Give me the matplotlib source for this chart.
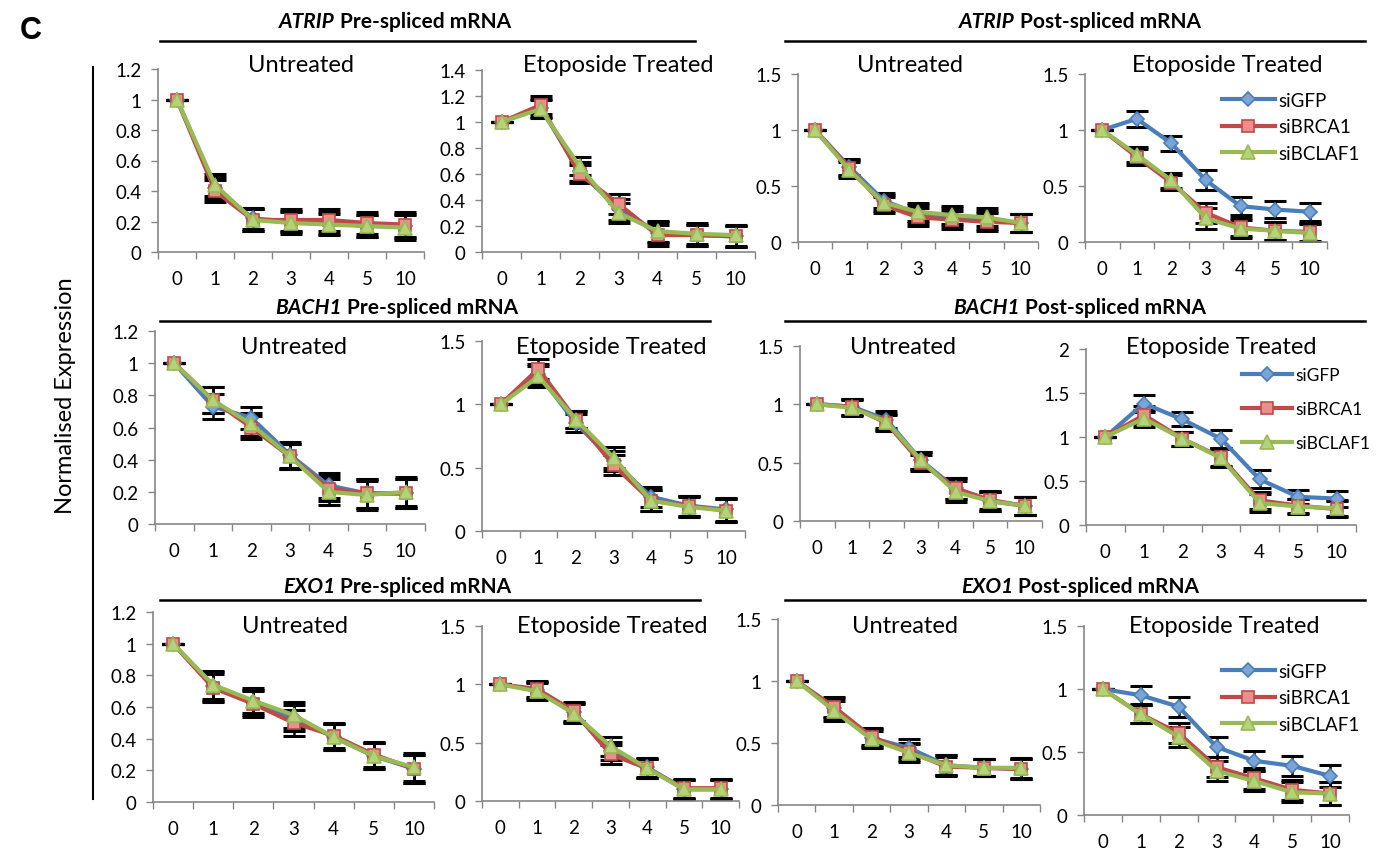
import matplotlib
matplotlib.use("Agg")
import matplotlib.pyplot as plt

# categories (hours)
hours = ["0", "1", "2", "3", "4", "5", "10"]
series_names = ["siGFP", "siBRCA1", "siBCLAF1"]

# ATRIP pre-spliced
atrip_pre_unt_gfp = [1, 0.42, 0.22, 0.20, 0.19, 0.17, 0.17]
atrip_pre_unt_brca1 = [1, 0.40, 0.21, 0.21, 0.21, 0.19, 0.18]
atrip_pre_unt_bclaf1 = [1, 0.44, 0.21, 0.19, 0.18, 0.17, 0.16]
atrip_pre_unt_err = [0, 0.07, 0.07, 0.07, 0.07, 0.07, 0.08]

atrip_pre_eto_gfp = [1, 1.11, 0.62, 0.33, 0.15, 0.13, 0.12]
atrip_pre_eto_brca1 = [1, 1.13, 0.60, 0.37, 0.13, 0.13, 0.12]
atrip_pre_eto_bclaf1 = [1, 1.10, 0.66, 0.30, 0.16, 0.14, 0.13]
atrip_pre_eto_err = [0, 0.07, 0.07, 0.08, 0.08, 0.08, 0.08]

# ATRIP post-spliced
atrip_post_unt_gfp = [1, 0.67, 0.37, 0.25, 0.22, 0.20, 0.17]
atrip_post_unt_brca1 = [1, 0.66, 0.33, 0.22, 0.20, 0.18, 0.17]
atrip_post_unt_bclaf1 = [1, 0.64, 0.35, 0.27, 0.24, 0.22, 0.17]
atrip_post_unt_err = [0, 0.07, 0.07, 0.08, 0.08, 0.08, 0.08]

atrip_post_eto_gfp = [1, 1.10, 0.88, 0.55, 0.32, 0.29, 0.27]
atrip_post_eto_brca1 = [1, 0.76, 0.53, 0.26, 0.13, 0.10, 0.09]
atrip_post_eto_bclaf1 = [1, 0.78, 0.55, 0.21, 0.12, 0.10, 0.08]
atrip_post_eto_err = [0, 0.07, 0.07, 0.09, 0.08, 0.08, 0.08]

# BACH1 pre-spliced
bach1_pre_unt_gfp = [1, 0.73, 0.66, 0.43, 0.24, 0.19, 0.19]
bach1_pre_unt_brca1 = [1, 0.77, 0.60, 0.42, 0.22, 0.19, 0.19]
bach1_pre_unt_bclaf1 = [1, 0.77, 0.62, 0.42, 0.20, 0.18, 0.20]
bach1_pre_unt_err = [0, 0.08, 0.07, 0.08, 0.08, 0.09, 0.09]

bach1_pre_eto_gfp = [1, 1.24, 0.85, 0.55, 0.27, 0.20, 0.17]
bach1_pre_eto_brca1 = [1, 1.28, 0.88, 0.52, 0.24, 0.20, 0.16]
bach1_pre_eto_bclaf1 = [1, 1.22, 0.88, 0.58, 0.24, 0.19, 0.16]
bach1_pre_eto_err = [0, 0.08, 0.07, 0.08, 0.08, 0.08, 0.09]

# BACH1 post-spliced
bach1_post_unt_gfp = [1, 0.98, 0.87, 0.52, 0.28, 0.17, 0.13]
bach1_post_unt_brca1 = [1, 0.98, 0.84, 0.50, 0.28, 0.18, 0.13]
bach1_post_unt_bclaf1 = [1, 0.97, 0.85, 0.52, 0.25, 0.17, 0.13]
bach1_post_unt_err = [0, 0.07, 0.07, 0.07, 0.09, 0.08, 0.08]

bach1_post_eto_gfp = [1, 1.38, 1.20, 0.98, 0.52, 0.32, 0.30]
bach1_post_eto_brca1 = [1, 1.25, 0.98, 0.77, 0.28, 0.22, 0.18]
bach1_post_eto_bclaf1 = [1, 1.21, 0.98, 0.76, 0.25, 0.21, 0.19]
bach1_post_eto_err = [0, 0.10, 0.08, 0.10, 0.10, 0.08, 0.09]

# EXO1 pre-spliced
exo1_pre_unt_gfp = [1, 0.73, 0.63, 0.53, 0.41, 0.29, 0.21]
exo1_pre_unt_brca1 = [1, 0.72, 0.62, 0.50, 0.42, 0.30, 0.21]
exo1_pre_unt_bclaf1 = [1, 0.74, 0.64, 0.55, 0.41, 0.29, 0.22]
exo1_pre_unt_err = [0, 0.09, 0.08, 0.08, 0.08, 0.08, 0.09]

exo1_pre_eto_gfp = [1, 0.95, 0.76, 0.43, 0.29, 0.10, 0.10]
exo1_pre_eto_brca1 = [1, 0.96, 0.77, 0.40, 0.28, 0.11, 0.11]
exo1_pre_eto_bclaf1 = [1, 0.94, 0.75, 0.47, 0.28, 0.10, 0.10]
exo1_pre_eto_err = [0, 0.07, 0.08, 0.08, 0.08, 0.08, 0.08]

# EXO1 post-spliced
exo1_post_unt_gfp = [1, 0.78, 0.54, 0.46, 0.32, 0.30, 0.29]
exo1_post_unt_brca1 = [1, 0.79, 0.55, 0.43, 0.31, 0.30, 0.29]
exo1_post_unt_bclaf1 = [1, 0.76, 0.53, 0.42, 0.32, 0.30, 0.30]
exo1_post_unt_err = [0, 0.08, 0.07, 0.07, 0.08, 0.07, 0.08]

exo1_post_eto_gfp = [1, 0.95, 0.86, 0.54, 0.43, 0.39, 0.31]
exo1_post_eto_brca1 = [1, 0.80, 0.65, 0.38, 0.29, 0.20, 0.17]
exo1_post_eto_bclaf1 = [1, 0.80, 0.62, 0.35, 0.27, 0.18, 0.17]
exo1_post_eto_err = [0, 0.07, 0.08, 0.08, 0.08, 0.08, 0.09]

line_colors = ["#4A7EBB", "#BE4B48", "#98B954"]
face_colors = ["#7BA4D6", "#E9908E", "#B5D27A"]
markers = ["D", "s", "^"]
marker_sizes = [7.5, 8.5, 10]

plt.rcParams['font.family'] = ['Lato', 'DejaVu Sans']

W, H = 1380, 853
fig = plt.figure(figsize=(W / 100, H / 100), dpi=100)


def fx(px):
    return px / W


def fy(py):
    return 1 - py / H


def panel(box, title, title_xy, ymax, ystep, gfp, brca1, bclaf1, err,
          legend=None):
    x0, x1, ytop, ybot = box
    ax = fig.add_axes([fx(x0), fy(ybot), (x1 - x0) / W, (ybot - ytop) / H])
    xs = list(range(len(hours)))
    for vals in [gfp, brca1, bclaf1]:
        ax.errorbar(xs, vals, yerr=err, fmt='none', ecolor='black',
                    elinewidth=1.8, capsize=8, capthick=2.2, zorder=2)
    for i, vals in enumerate([gfp, brca1, bclaf1]):
        ax.plot(xs, vals, color=line_colors[i], lw=3, marker=markers[i],
                ms=marker_sizes[i], mfc=face_colors[i], mec=line_colors[i],
                mew=1.2, label=series_names[i], zorder=3 + i)
    ax.set_xlim(-0.5, len(hours) - 0.5)
    ax.set_ylim(0, ymax)
    n = int(round(ymax / ystep))
    yt = [round(k * ystep, 2) for k in range(n + 1)]
    ax.set_yticks(yt)
    ax.set_yticklabels(["%g" % v for v in yt])
    ax.set_xticks(xs)
    ax.set_xticklabels(hours)
    ax.set_xticks([x - 0.5 for x in range(len(hours) + 1)], minor=True)
    ax.tick_params(axis='x', which='major', length=0, pad=13, labelsize=13.5)
    ax.tick_params(axis='x', which='minor', length=5, color='#868686', width=1)
    ax.tick_params(axis='y', length=5, color='#868686', width=1, labelsize=13.5,
                   pad=7)
    for s in ['top', 'right']:
        ax.spines[s].set_visible(False)
    for s in ['left', 'bottom']:
        ax.spines[s].set_color('#868686')
        ax.spines[s].set_linewidth(1.2)
    ax.patch.set_alpha(0)
    fig.text(fx(title_xy[0]), fy(title_xy[1]), title, ha='center', va='center',
             fontsize=17)
    if legend is not None:
        lx, ly, hl, ls, fs = legend
        ax.legend(loc='upper left', bbox_to_anchor=(fx(lx), fy(ly)),
                  bbox_transform=fig.transFigure, frameon=False, fontsize=fs,
                  handlelength=hl, labelspacing=ls, handletextpad=0.2,
                  borderaxespad=0, borderpad=0)
    return ax


panel((158, 424, 70, 253), "Untreated", (301, 65), 1.2, 0.2,
      atrip_pre_unt_gfp, atrip_pre_unt_brca1, atrip_pre_unt_bclaf1, atrip_pre_unt_err)
panel((482, 755, 71, 253), "Etoposide Treated", (618, 65), 1.4, 0.2,
      atrip_pre_eto_gfp, atrip_pre_eto_brca1, atrip_pre_eto_bclaf1, atrip_pre_eto_err)
panel((798, 1038, 75, 243), "Untreated", (910, 65), 1.5, 0.5,
      atrip_post_unt_gfp, atrip_post_unt_brca1, atrip_post_unt_bclaf1, atrip_post_unt_err)
panel((1085, 1327, 75, 243), "Etoposide Treated", (1227, 65), 1.5, 0.5,
      atrip_post_eto_gfp, atrip_post_eto_brca1, atrip_post_eto_bclaf1, atrip_post_eto_err,
      legend=(1222, 93, 2.8, 0.5, 13.5))

panel((155, 425, 332, 525), "Untreated", (294, 348), 1.2, 0.2,
      bach1_pre_unt_gfp, bach1_pre_unt_brca1, bach1_pre_unt_bclaf1, bach1_pre_unt_err)
panel((482, 745, 342, 532), "Etoposide Treated", (611, 348), 1.5, 0.5,
      bach1_pre_eto_gfp, bach1_pre_eto_brca1, bach1_pre_eto_bclaf1, bach1_pre_eto_err)
panel((800, 1042, 347, 522), "Untreated", (903, 348), 1.5, 0.5,
      bach1_post_unt_gfp, bach1_post_unt_brca1, bach1_post_unt_bclaf1, bach1_post_unt_err)
panel((1086, 1356, 350, 526), "Etoposide Treated", (1221, 348), 2, 0.5,
      bach1_post_eto_gfp, bach1_post_eto_brca1, bach1_post_eto_bclaf1, bach1_post_eto_err,
      legend=(1242, 368, 2.9, 1.05, 12.5))

panel((153, 434, 613, 803), "Untreated", (295, 627), 1.2, 0.2,
      exo1_pre_unt_gfp, exo1_pre_unt_brca1, exo1_pre_unt_bclaf1, exo1_pre_unt_err)
panel((482, 739, 627, 802), "Etoposide Treated", (612, 627), 1.5, 0.5,
      exo1_pre_eto_gfp, exo1_pre_eto_brca1, exo1_pre_eto_bclaf1, exo1_pre_eto_err)
panel((778, 1040, 620, 806), "Untreated", (905, 627), 1.5, 0.5,
      exo1_post_unt_gfp, exo1_post_unt_brca1, exo1_post_unt_bclaf1, exo1_post_unt_err)
panel((1084, 1349, 627, 816), "Etoposide Treated", (1224, 627), 1.5, 0.5,
      exo1_post_eto_gfp, exo1_post_eto_brca1, exo1_post_eto_bclaf1, exo1_post_eto_err,
      legend=(1222, 664, 2.8, 0.5, 13.5))

# group headers: italic gene name + bold rest, centred together, with a rule below
headers = [
    ("ATRIP", "Pre-spliced mRNA", 395, 22, 160, 695, 42),
    ("ATRIP", "Post-spliced mRNA", 1080, 22, 785, 1365, 42),
    ("BACH1", "Pre-spliced mRNA", 397, 308, 160, 710, 322),
    ("BACH1", "Post-spliced mRNA", 1080, 308, 785, 1365, 322),
    ("EXO1", "Pre-spliced mRNA", 397, 587, 160, 700, 601),
    ("EXO1", "Post-spliced mRNA", 1080, 587, 785, 1365, 601),
]
renderer = fig.canvas.get_renderer()
for gene, rest, cx, cy, lx0, lx1, ly in headers:
    t1 = fig.text(0, fy(cy), gene, ha='left', va='center', fontsize=15,
                  fontweight='bold', fontstyle='italic')
    t2 = fig.text(0, fy(cy), rest, ha='left', va='center', fontsize=15,
                  fontweight='bold')
    w1 = t1.get_window_extent(renderer).width
    w2 = t2.get_window_extent(renderer).width
    gap = 5
    start = cx - (w1 + gap + w2) / 2
    t1.set_x(fx(start))
    t2.set_x(fx(start + w1 + gap))
    fig.add_artist(plt.Line2D([fx(lx0), fx(lx1)], [fy(ly), fy(ly)],
                              color='black', lw=1.8))

fig.add_artist(plt.Line2D([fx(93), fx(93)], [fy(68), fy(800)],
                          color='black', lw=1.5))
fig.text(fx(65), fy(396), "Normalised Expression", rotation=90,
         ha='center', va='center', fontsize=17)
fig.text(fx(31), fy(31), "C", ha='center', va='center', fontsize=22,
         fontweight='bold', family='Liberation Sans')

fig.savefig("out.png", dpi=100)
